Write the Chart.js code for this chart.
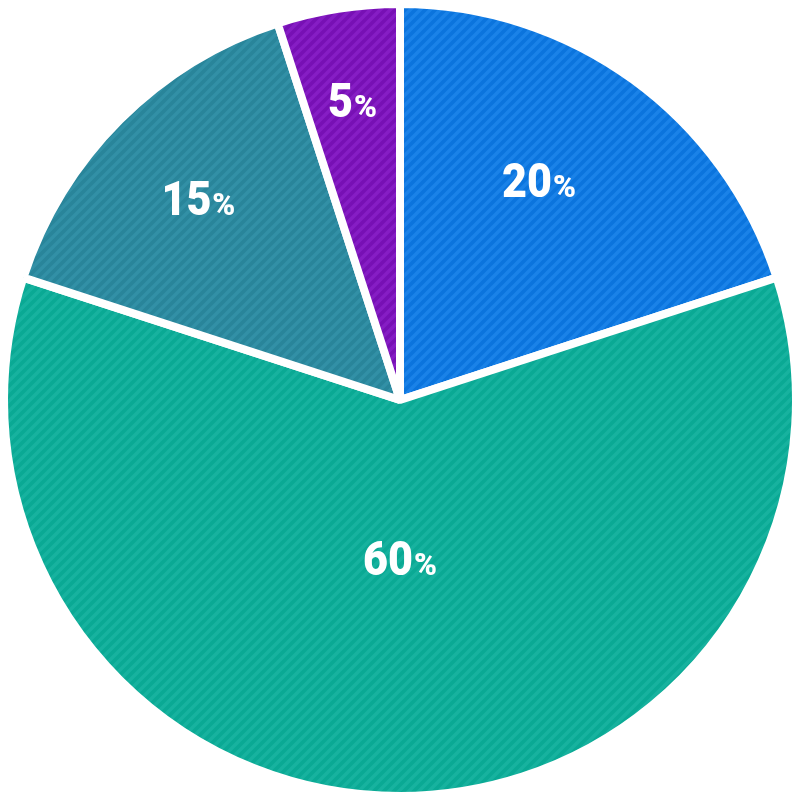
<!DOCTYPE html>
<html>
<head>
<meta charset="utf-8">
<script src="https://cdn.jsdelivr.net/npm/chart.js@4"></script>
<style>
  html, body { margin: 0; padding: 0; background: #fff; }
  #wrap { width: 800px; height: 800px; }
</style>
</head>
<body>
<div id="wrap"><canvas id="pieChart" width="800" height="800"></canvas></div>
<script>
// datos del grafico
var categorias = ['A', 'B', 'C', 'D'];
var valores = [20, 60, 15, 5];
var etiquetas = ['20', '60', '15', '5'];

// colores base y de las rayas
var coloresBase = ['#0b74dd', '#0aa994', '#29859a', '#7710b4'];
var coloresRaya = ['#1a82e8', '#17b29f', '#3290a6', '#861dc4'];
// donde va cada etiqueta (fraccion del radio y giro en grados)
var radioEtiqueta = [0.657, 0.40, 0.72, 0.767];
var giroEtiqueta = [-3.7, 0, 0, 0];

function hacerRayas(base, raya){
  var c = document.createElement('canvas');
  c.width = 10; c.height = 10;
  var g = c.getContext('2d');
  g.fillStyle = base;
  g.fillRect(0, 0, 10, 10);
  g.strokeStyle = raya;
  g.lineWidth = 3.5;
  g.beginPath();
  g.moveTo(-5, 5); g.lineTo(5, -5);
  g.moveTo(0, 10); g.lineTo(10, 0);
  g.moveTo(5, 15); g.lineTo(15, 5);
  g.stroke();
  return g.createPattern(c, 'repeat');
}

var patrones = coloresBase.map(function(b, i){ return hacerRayas(b, coloresRaya[i]); });

// plugin para pintar los porcentajes
var escalaNum = 0.88;
var escalaPct = 1.0;
var fuenteNum = '900 49px Roboto';
var fuentePct = '900 31px Roboto';
var etiquetasPlugin = {
  id: 'etiquetasPct',
  afterDatasetsDraw: function(chart){
    var ctx = chart.ctx;
    var meta = chart.getDatasetMeta(0);
    meta.data.forEach(function(arc, i){
      var p = arc.getProps(['x', 'y', 'startAngle', 'endAngle', 'outerRadius'], true);
      var ang = (p.startAngle + p.endAngle) / 2 + giroEtiqueta[i] * Math.PI / 180;
      var r = p.outerRadius * radioEtiqueta[i];
      var cx = p.x + Math.cos(ang) * r;
      var cy = p.y + Math.sin(ang) * r;
      ctx.save();
      ctx.fillStyle = '#ffffff';
      ctx.textBaseline = 'alphabetic';
      ctx.textAlign = 'left';
      ctx.font = fuenteNum;
      var w1 = ctx.measureText(etiquetas[i]).width * escalaNum;
      ctx.font = fuentePct;
      var w2 = ctx.measureText('%').width * escalaPct;
      var hueco = 1;
      var x0 = cx - (w1 + hueco + w2) / 2;
      var base = cy + 17;
      ctx.save();
      ctx.translate(x0, base);
      ctx.scale(escalaNum, 1);
      ctx.font = fuenteNum;
      ctx.fillText(etiquetas[i], 0, 0);
      ctx.restore();
      ctx.save();
      ctx.translate(x0 + w1 + hueco, base);
      ctx.scale(escalaPct, 1);
      ctx.font = fuentePct;
      ctx.fillText('%', 0, 0);
      ctx.restore();
      ctx.restore();
    });
  }
};

var ctx = document.getElementById('pieChart').getContext('2d');
var pieChart = new Chart(ctx, {
  type: 'pie',
  data: {
    labels: categorias,
    datasets: [{
      data: valores,
      backgroundColor: patrones,
      borderColor: '#ffffff',
      borderWidth: 8
    }]
  },
  options: {
    responsive: false,
    animation: false,
    layout: { padding: 0 },
    plugins: {
      legend: { display: false },
      tooltip: { enabled: false }
    }
  },
  plugins: [etiquetasPlugin]
});
</script>
</body>
</html>
